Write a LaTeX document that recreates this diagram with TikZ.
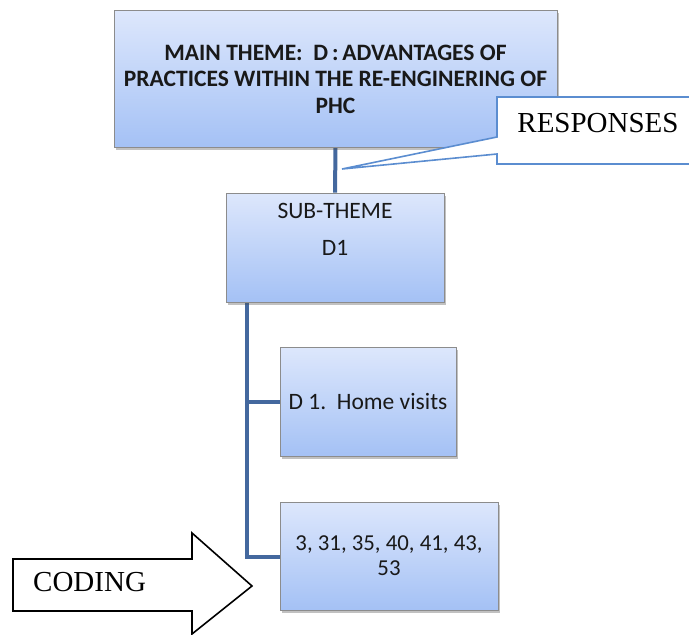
\documentclass[tikz,border=0pt]{standalone}
\usepackage{fontspec}
\setmainfont{Liberation Serif}
\newfontfamily\calibri{Carlito}
\usetikzlibrary{shadows}

\pgfdeclarelayer{background}
\pgfsetlayers{background,main}

\definecolor{boxtop}{HTML}{DDE7FC}
\definecolor{boxbottom}{HTML}{A4C1F5}
\definecolor{boxedge}{HTML}{8C8C8C}
\definecolor{linkblue}{HTML}{44689E}
\definecolor{calloutblue}{HTML}{5B8DD0}

\tikzset{
  themebox/.style={rectangle, draw=boxedge, line width=0.9pt,
    top color=boxtop, bottom color=boxbottom,
    drop shadow={shadow xshift=1.5pt, shadow yshift=-2.5pt, opacity=0.35, fill=black!70},
    inner sep=0pt, align=center, text=black!90},
  link/.style={draw=linkblue, line width=4pt},
  calloutbox/.style={draw=calloutblue, line width=1.6pt, fill=white, line join=miter},
  bigarrow/.style={draw=black, line width=1.6pt, fill=white, line join=miter},
  serifword/.style={font=\fontsize{29}{32}\selectfont, inner sep=0pt}
}

\begin{document}
\begin{tikzpicture}[x=1pt, y=-1pt]
\useasboundingbox (0,0) rectangle (689,635);

% theme boxes
\node[themebox, minimum width=443pt, minimum height=137pt,
      font=\calibri\bfseries\fontsize{23.5}{26.5}\selectfont] (main) at (335.5,79)
  {MAIN THEME:\ \ D\,:\,ADVANTAGES OF\\PRACTICES WITHIN THE RE-ENGINERING OF\\PHC};
\node[themebox, minimum width=218pt, minimum height=109pt] (sub) at (335,247.5) {};
\node[font=\calibri\fontsize{23.5}{26}\selectfont, align=center, inner sep=0pt, text=black!90]
  (subtext) at (335,229.5) {SUB-THEME\\[11pt]D1};
\node[themebox, minimum width=176pt, minimum height=109pt,
      font=\calibri\fontsize{23.5}{26}\selectfont] (d1) at (368,401.5) {D 1.\ \ Home visits};
\node[themebox, minimum width=218pt, minimum height=108pt,
      font=\calibri\fontsize{22.8}{25}\selectfont] (codes) at (389,556)
  {3, 31, 35, 40, 41, 43,\\53};

% hierarchy connectors, kept behind the boxes
\begin{pgfonlayer}{background}
  \draw[link] (main.south) -- (sub.north);
  \path (sub.south west) ++(21,0) coordinate (trunk);
  \draw[link] (trunk) |- (d1.west);
  \draw[link] (trunk) |- ([yshift=-1pt]codes.west);
\end{pgfonlayer}

% callout
\coordinate (rtip) at (342,169);
\begin{scope}
  \clip (0,0) rectangle (689,635);
  \draw[calloutbox] (497,97) -- (720,97) -- (720,164) -- (497,164) -- (497,154)
    -- (rtip) -- (497,137) -- cycle;
\end{scope}
\node[serifword] (resp) at (598,123) {RESPONSES};

% coding arrow
\draw[bigarrow] (13,559) -- (192,559) -- (192,533) -- (252,586) -- (192,634)
  -- (192,611) -- (13,611) -- cycle;
\node[serifword, anchor=west] (coding) at (33,582) {CODING};
\end{tikzpicture}
\end{document}
